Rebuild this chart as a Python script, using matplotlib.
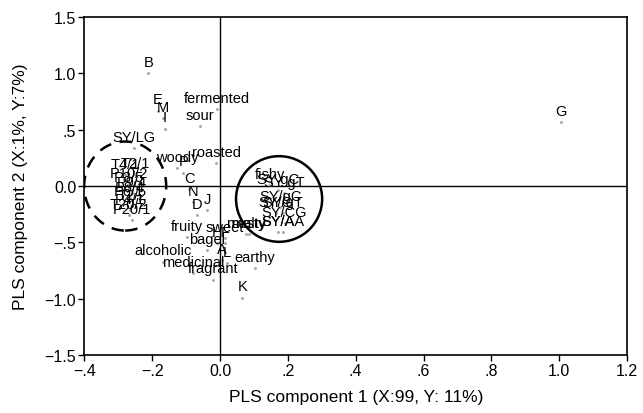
import numpy as np
import matplotlib
matplotlib.use("Agg")
import matplotlib.pyplot as plt
from matplotlib.patches import Ellipse

plt.rcParams['font.family'] = ['Liberation Sans', 'DejaVu Sans']

# loadings / scores of the PLS model (component 1, component 2)
samples_left = ["T4/1", "T2/1", "P10/2", "P3/5", "P9/4", "P8/4", "P6/1", "T2/2", "P4/1", "T20/2", "P20/1"]
samples_left_x = [-0.28, -0.25, -0.27, -0.27, -0.26, -0.265, -0.27, -0.26, -0.265, -0.27, -0.26]
samples_left_y = [0.10, 0.11, 0.02, -0.02, -0.06, -0.11, -0.14, -0.18, -0.21, -0.26, -0.30]

samples_right = ["fishy", "SY gC", "SY gT", "SY/gC", "SY/G", "SY/gT", "SY/CG", "SY/A", "SY/AA"]
samples_right_x = [0.147, 0.171, 0.189, 0.177, 0.165, 0.186, 0.19, 0.171, 0.186]
samples_right_y = [0.01, -0.035, -0.06, -0.19, -0.24, -0.24, -0.33, -0.41, -0.41]

others = ["B", "E", "M", "I", "fermented", "sour", "SY/LG", "woody", "P", "roasted",
          "C", "N", "D", "J", "fruity", "alcoholic", "bagel", "H", "F", "sweet",
          "musty", "malty", "A", "L", "earthy", "medicinal", "fragrant", "K", "G"]
others_x = [-0.212, -0.183, -0.168, -0.162, -0.009, -0.059, -0.254, -0.127, -0.109, -0.012,
            -0.091, -0.08, -0.068, -0.038, -0.097, -0.168, -0.038, -0.009, 0.015, 0.015,
            0.077, 0.085, 0.006, 0.021, 0.103, -0.08, -0.021, 0.065, 1.006]
others_y = [1.0, 0.67, 0.60, 0.51, 0.68, 0.53, 0.34, 0.16, 0.12, 0.20,
            -0.03, -0.14, -0.26, -0.21, -0.45, -0.67, -0.57, -0.51, -0.51, -0.46,
            -0.43, -0.43, -0.66, -0.68, -0.73, -0.77, -0.83, -0.99, 0.57]

labels = samples_left + samples_right + others
xs = np.array(samples_left_x + samples_right_x + others_x)
ys = np.array(samples_left_y + samples_right_y + others_y)

xticks = [-0.4, -0.2, 0.0, 0.2, 0.4, 0.6, 0.8, 1.0, 1.2]
xticklabels = ["\u2212.4", "\u2212.2", "0.0", ".2", ".4", ".6", ".8", "1.0", "1.2"]
yticks = [-1.5, -1.0, -0.5, 0.0, 0.5, 1.0, 1.5]
yticklabels = ["\u22121.5", "\u22121.0", "\u2212.5", "0.0", ".5", "1.0", "1.5"]

fig = plt.figure(figsize=(6.43, 4.14), dpi=100)
ax = fig.add_axes([0.1314, 0.140, 0.8436, 0.8165])

ax.axhline(0, color="black", lw=1.0, zorder=1)
ax.axvline(0, color="black", lw=1.0, zorder=1)

ax.scatter(xs, ys, s=1.2, color="0.65", zorder=2)
for lab, x, y in zip(labels, xs, ys):
    ax.annotate(lab, (x, y), xytext=(0, 8), textcoords="offset points",
                ha="center", va="center", fontsize=10.5, zorder=3)

# groups
ax.add_patch(Ellipse((-0.28, 0.0), 0.242, 0.79, fill=False, lw=1.8,
                     ls=(0, (5, 3.5)), color="black", zorder=4))
ax.add_patch(Ellipse((0.174, -0.115), 0.254, 0.76, fill=False, lw=1.8,
                     color="black", zorder=4))

ax.set_xlim(-0.4, 1.2)
ax.set_ylim(-1.5, 1.5)
ax.set_xticks(xticks)
ax.set_xticklabels(xticklabels, fontsize=11.5)
ax.set_yticks(yticks)
ax.set_yticklabels(yticklabels, fontsize=11.5)
ax.tick_params(direction="out", length=4, width=1, pad=2)
for s in ax.spines.values():
    s.set_linewidth(1.2)

ax.set_xlabel("PLS component 1 (X:99, Y: 11%)", fontsize=12.5, labelpad=8)
ax.set_ylabel("PLS component 2 (X:1%, Y:7%)", fontsize=12.5, labelpad=12)

fig.savefig("out.png", dpi=100)
